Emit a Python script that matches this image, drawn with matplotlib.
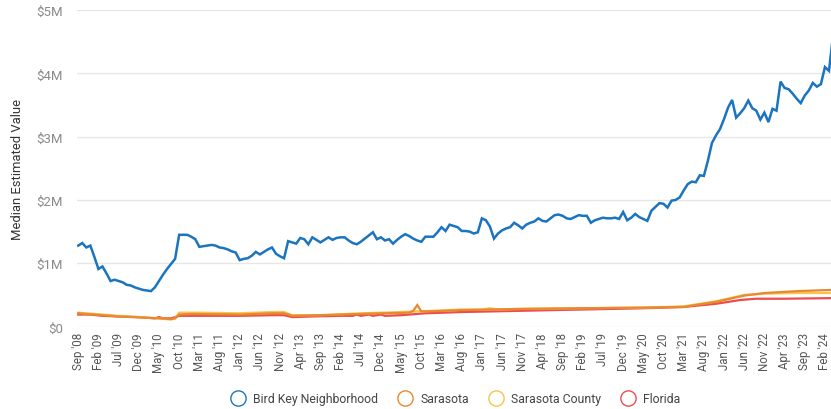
import numpy as np
import pandas as pd
import matplotlib.pyplot as plt
from matplotlib.lines import Line2D
from matplotlib.ticker import FuncFormatter

plt.rcParams['font.family'] = ['Roboto', 'DejaVu Sans']

# months counted from Sep 2008
start = pd.Timestamp('2008-09-01')

bird_key = [
    1.28, 1.32, 1.25, 1.28, 1.10, 0.91, 0.95, 0.84, 0.72, 0.74,
    0.72, 0.70, 0.66, 0.65, 0.62, 0.60, 0.58, 0.57, 0.56, 0.62,
    0.72, 0.82, 0.91, 0.99, 1.07, 1.45, 1.45, 1.45, 1.42, 1.38,
    1.26, 1.27, 1.28, 1.29, 1.28, 1.25, 1.24, 1.22, 1.19, 1.17,
    1.05, 1.07, 1.08, 1.12, 1.18, 1.14, 1.18, 1.22, 1.25, 1.15,
    1.11, 1.08, 1.35, 1.33, 1.31, 1.40, 1.38, 1.30, 1.41, 1.37,
    1.33, 1.37, 1.41, 1.37, 1.40, 1.41, 1.41, 1.36, 1.32, 1.30,
    1.34, 1.39, 1.44, 1.49, 1.38, 1.41, 1.36, 1.38, 1.31, 1.37,
    1.42, 1.46, 1.43, 1.39, 1.36, 1.34, 1.42, 1.42, 1.42, 1.49,
    1.57, 1.51, 1.61, 1.59, 1.57, 1.51, 1.51, 1.50, 1.47, 1.49,
    1.71, 1.68, 1.58, 1.39, 1.47, 1.52, 1.55, 1.57, 1.64, 1.60,
    1.55, 1.61, 1.64, 1.66, 1.71, 1.67, 1.66, 1.71, 1.76, 1.77,
    1.75, 1.71, 1.70, 1.73, 1.76, 1.75, 1.75, 1.64, 1.68, 1.70,
    1.72, 1.71, 1.71, 1.72, 1.70, 1.81, 1.68, 1.72, 1.78, 1.73,
    1.70, 1.67, 1.83, 1.89, 1.95, 1.94, 1.88, 1.99, 2.00, 2.04,
    2.15, 2.25, 2.29, 2.28, 2.39, 2.38, 2.62, 2.90, 3.02, 3.12,
    3.28, 3.46, 3.58, 3.30, 3.37, 3.45, 3.57, 3.45, 3.41, 3.27,
    3.38, 3.23, 3.44, 3.41, 3.87, 3.77, 3.75, 3.68, 3.60, 3.53,
    3.65, 3.73, 3.85, 3.79, 3.83, 4.10, 4.04, 4.60,
]

sarasota_months = [0, 4, 10, 20, 23, 24, 25, 28, 40, 48, 51, 53, 60, 70, 82, 83, 84, 85,
                   87, 95, 110, 125, 140, 150, 158, 165, 170, 178, 187]
sarasota = [0.21, 0.19, 0.16, 0.13, 0.12, 0.13, 0.19, 0.20, 0.19, 0.21, 0.21, 0.17, 0.18,
            0.20, 0.22, 0.25, 0.34, 0.24, 0.24, 0.26, 0.28, 0.29, 0.30, 0.31, 0.39, 0.49,
            0.53, 0.56, 0.58]

county_months = [0, 4, 10, 20, 23, 24, 25, 30, 40, 48, 51, 53, 60, 70, 80, 88, 95, 100,
                 102, 104, 110, 125, 140, 150, 158, 165, 170, 178, 187]
county = [0.22, 0.20, 0.17, 0.13, 0.11, 0.13, 0.22, 0.22, 0.21, 0.23, 0.23, 0.18, 0.18,
          0.21, 0.23, 0.25, 0.27, 0.27, 0.29, 0.27, 0.28, 0.29, 0.30, 0.32, 0.40, 0.50,
          0.52, 0.53, 0.53]

florida_months = [0, 3, 6, 10, 15, 19, 20, 21, 23, 25, 30, 40, 48, 51, 53, 58, 65, 68, 69,
                  70, 72, 73, 75, 76, 80, 86, 95, 110, 125, 140, 150, 158, 164, 168, 175, 187]
florida = [0.19, 0.19, 0.17, 0.16, 0.15, 0.13, 0.15, 0.13, 0.13, 0.17, 0.17, 0.17, 0.18,
           0.18, 0.15, 0.16, 0.17, 0.17, 0.19, 0.17, 0.19, 0.17, 0.19, 0.17, 0.18, 0.21,
           0.23, 0.25, 0.27, 0.29, 0.31, 0.36, 0.42, 0.44, 0.44, 0.45]

series = [
    ('Bird Key Neighborhood', list(range(len(bird_key))), bird_key, '#1b74bf'),
    ('Sarasota', sarasota_months, sarasota, '#e8892f'),
    ('Sarasota County', county_months, county, '#f6c54a'),
    ('Florida', florida_months, florida, '#ee4b4e'),
]

tick_months = list(range(0, 186, 5))
tick_labels = [(start + pd.DateOffset(months=m)).strftime("%b '%y") for m in tick_months]

fig = plt.figure(figsize=(8.31, 4.10), dpi=100)
ax = fig.add_axes([0.0927, 0.201, 0.9073, 0.772])

# draw the county lines first so the neighborhood line sits on top
for name, months, vals, color in series[::-1]:
    ax.plot(months, np.array(vals) * 1e6, color=color, lw=1.8 if name.startswith('Bird') else 1.6,
            solid_joinstyle='miter')

ax.set_xlim(-0.3, 186.5)
ax.set_ylim(0, 5e6)
ax.set_yticks(np.arange(0, 5.1e6, 1e6))
ax.yaxis.set_major_formatter(FuncFormatter(lambda v, _: '$0' if v == 0 else f'${v/1e6:.0f}M'))
ax.set_xticks(tick_months)
ax.set_xticklabels(tick_labels, rotation=90, fontsize=8.3, color='#555555')
ax.tick_params(axis='y', labelsize=9.5, labelcolor='#8a8a8a', length=0, pad=10)
ax.tick_params(axis='x', length=0, pad=4)
ax.grid(axis='y', color='#e6e6e6', lw=1)
ax.set_axisbelow(True)
for s in ax.spines.values():
    s.set_visible(False)
ax.set_ylabel('Median Estimated Value', fontsize=9.4, color='#333333', labelpad=9)

handles = [Line2D([], [], ls='none', marker='o', markersize=11, markerfacecolor='none',
                  markeredgecolor=c, markeredgewidth=1) for _, _, _, c in series]
fig.legend(handles, [s[0] for s in series], loc='center', bbox_to_anchor=(0.545, 0.026),
           ncol=4, frameon=False, fontsize=8.8, handletextpad=0.25, columnspacing=1.2,
           labelcolor='#444444')

fig.savefig('out.png', dpi=100)
